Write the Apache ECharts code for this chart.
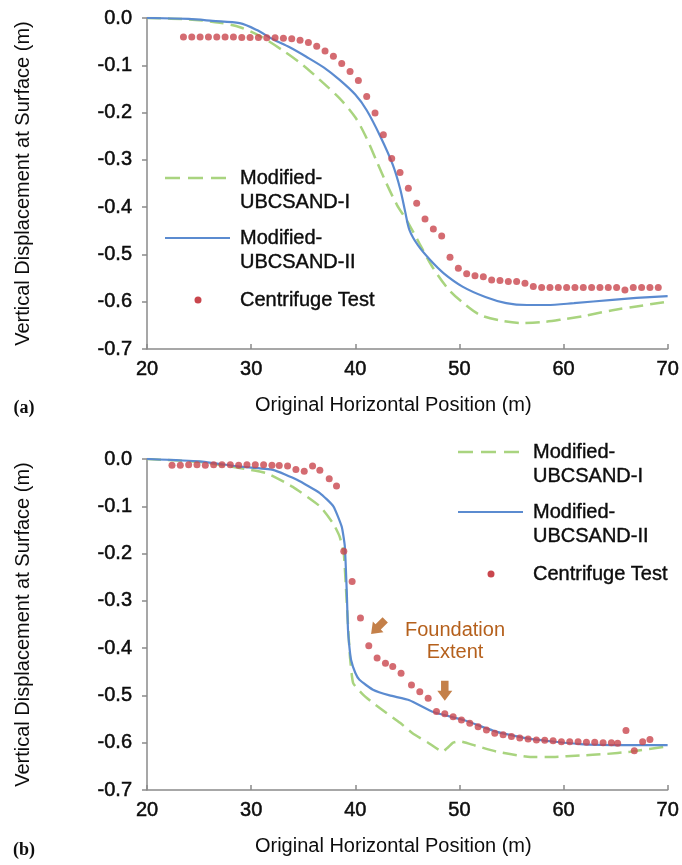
<!DOCTYPE html>
<html>
<head>
<meta charset="utf-8">
<script src="https://cdn.jsdelivr.net/npm/echarts@6/dist/echarts.min.js"></script>
<style>html,body{margin:0;padding:0;background:#fff}#c{width:682px;height:865px}</style>
</head>
<body>
<div id="c"></div>
<script>
// ---------- (a) ----------
const aModIx = [20, 24, 27, 29, 31, 33, 35, 36.6, 38.5, 40, 41, 42, 43, 44, 45, 46, 47.4, 49, 50.5, 52, 54, 56, 58, 60, 62, 64.7, 67, 70];
const aModIy = [0, -0.003, -0.01, -0.02, -0.04, -0.068, -0.1, -0.131, -0.17, -0.21, -0.25, -0.3, -0.35, -0.395, -0.43, -0.47, -0.526, -0.575, -0.605, -0.628, -0.64, -0.645, -0.643, -0.637, -0.63, -0.618, -0.61, -0.6];
const aModIIx = [20, 24, 26.3, 28.9, 30.5, 32.1, 33.7, 35.3, 37, 38.5, 40, 41.1, 42.4, 43.6, 44.3, 44.8, 45.2, 46, 47.2, 48.5, 50.3, 52.5, 54.5, 56.5, 58.4, 61, 64.7, 67, 70];
const aModIIy = [0, -0.002, -0.006, -0.011, -0.025, -0.045, -0.062, -0.082, -0.105, -0.131, -0.162, -0.195, -0.25, -0.31, -0.36, -0.41, -0.448, -0.48, -0.512, -0.54, -0.568, -0.59, -0.603, -0.607, -0.607, -0.603, -0.596, -0.592, -0.588];
const aTestx = [23.5, 24.3, 25.1, 25.9, 26.7, 27.5, 28.3, 29.1, 29.9, 30.7, 31.5, 32.3, 33.1, 33.9, 34.7, 35.5, 36.3, 37.1, 37.9, 38.7, 39.5, 40.3, 41.1, 41.9, 42.7, 43.5, 44.3, 45.1, 45.9, 46.7, 47.5, 48.3, 49.1, 49.9, 50.7, 51.5, 52.3, 53.1, 53.9, 54.7, 55.5, 56.3, 57.1, 57.9, 58.7, 59.5, 60.3, 61.1, 61.9, 62.7, 63.5, 64.3, 65.1, 65.9, 66.7, 67.5, 68.3, 69.1];
const aTesty = [-0.040, -0.040, -0.040, -0.040, -0.040, -0.040, -0.040, -0.041, -0.041, -0.041, -0.042, -0.042, -0.043, -0.044, -0.047, -0.052, -0.060, -0.070, -0.081, -0.096, -0.113, -0.132, -0.166, -0.201, -0.247, -0.297, -0.327, -0.360, -0.392, -0.425, -0.446, -0.461, -0.506, -0.529, -0.541, -0.545, -0.547, -0.554, -0.555, -0.557, -0.557, -0.561, -0.568, -0.570, -0.570, -0.570, -0.570, -0.570, -0.570, -0.570, -0.570, -0.570, -0.570, -0.575, -0.570, -0.570, -0.570, -0.570];

// ---------- (b) ----------
const bModIx = [20, 25, 28.9, 31.5, 34, 36.6, 37.9, 38.5, 38.9, 39.1, 39.3, 39.5, 39.8, 40.7, 41.7, 43, 44.3, 45.5, 47, 48.4, 48.9, 49.4, 50.0, 51.5, 53.6, 56.8, 59, 61.6, 64, 66.4, 69.9];
const bModIy = [0, -0.006, -0.019, -0.03, -0.059, -0.1, -0.137, -0.164, -0.2, -0.27, -0.35, -0.42, -0.474, -0.497, -0.516, -0.537, -0.558, -0.58, -0.6, -0.619, -0.61, -0.6, -0.597, -0.606, -0.619, -0.63, -0.63, -0.627, -0.624, -0.619, -0.608];
const bModIIx = [20, 25, 28.9, 32.1, 34.4, 36.6, 37.9, 38.7, 39.0, 39.2, 39.3, 39.45, 39.6, 40, 40.4, 41.7, 43.3, 45.2, 47.5, 50.4, 53.6, 56.8, 61.6, 66.4, 70];
const bModIIy = [0, -0.005, -0.016, -0.023, -0.044, -0.072, -0.1, -0.143, -0.185, -0.29, -0.36, -0.4, -0.425, -0.452, -0.467, -0.488, -0.5, -0.51, -0.535, -0.552, -0.577, -0.592, -0.603, -0.605, -0.605];
const bTestx = [22.4, 23.2, 24.0, 24.8, 25.6, 26.4, 27.2, 28.0, 28.8, 29.6, 30.4, 31.2, 32.0, 32.7, 33.5, 34.3, 35.1, 35.9, 36.6, 37.5, 38.2, 38.9, 39.7, 40.5, 41.3, 42.1, 42.9, 43.6, 44.4, 45.4, 46.2, 47.0, 47.8, 48.6, 49.4, 50.2, 51.0, 51.8, 52.6, 53.4, 54.2, 55.0, 55.8, 56.6, 57.4, 58.2, 59.0, 59.8, 60.6, 61.4, 62.2, 63.0, 63.8, 64.6, 65.2, 66.0, 66.8, 67.6, 68.3];
const bTesty = [-0.013, -0.013, -0.012, -0.012, -0.013, -0.012, -0.012, -0.012, -0.013, -0.012, -0.012, -0.012, -0.013, -0.014, -0.015, -0.022, -0.026, -0.015, -0.024, -0.042, -0.057, -0.195, -0.259, -0.336, -0.395, -0.421, -0.432, -0.439, -0.453, -0.478, -0.492, -0.506, -0.534, -0.539, -0.545, -0.552, -0.559, -0.566, -0.573, -0.58, -0.583, -0.587, -0.59, -0.592, -0.594, -0.595, -0.596, -0.598, -0.598, -0.598, -0.599, -0.599, -0.6, -0.6, -0.601, -0.574, -0.617, -0.598, -0.593];

// foundation-extent arrows (data coordinates) in (b)
const arrowX = [42.2, 48.6];
const arrowY = [-0.355, -0.49];
const arrowRot = [-45, 0];

const xTicks = [20, 30, 40, 50, 60, 70];
const yTicks = [0, -0.1, -0.2, -0.3, -0.4, -0.5, -0.6, -0.7];

const seriesNames = ['Modified-UBCSAND-I', 'Modified-UBCSAND-II', 'Centrifuge Test'];
const colI = '#a9d47f', colII = '#5b8bd0', colTest = '#c9464d', colAnno = '#b5601c';
const FONT = 'Liberation Sans, Arial, sans-serif';
const TXT = '#0d0d0d';

function zip(xs, ys) { return xs.map((x, i) => [x, ys[i]]); }

const chart = echarts.init(document.getElementById('c'), null, {renderer: 'canvas'});

const grids = [
  {left: 147, right: 14, top: 18, height: 331},
  {left: 147, right: 14, top: 459, height: 331}
];

function xAx(gi) {
  return {
    type: 'value', gridIndex: gi, min: xTicks[0], max: xTicks[xTicks.length - 1], interval: 10,
    name: 'Original Horizontal Position (m)', nameLocation: 'middle', nameGap: 46,
    nameTextStyle: {fontFamily: FONT, fontSize: 20, color: TXT, padding: [0, 28, 0, 0]},
    axisLine: {show: true, onZero: false, lineStyle: {color: '#8a8a8a', width: 1.5}},
    axisTick: {show: true, inside: true, length: 5, lineStyle: {color: '#8a8a8a', width: 1.5}},
    axisLabel: {fontFamily: FONT, fontSize: 20, color: TXT, margin: 10, textBorderColor: TXT, textBorderWidth: 0.5},
    splitLine: {show: false}
  };
}
function yAx(gi) {
  return {
    type: 'value', gridIndex: gi, min: -0.7, max: 0, interval: 0.1,
    name: 'Vertical Displacement at Surface (m)', nameLocation: 'middle', nameRotate: 90, nameGap: 114,
    nameTextStyle: {fontFamily: FONT, fontSize: 20, color: TXT},
    axisLine: {show: true, onZero: false, lineStyle: {color: '#8a8a8a', width: 1.5}},
    axisTick: {show: true, inside: false, length: 5, lineStyle: {color: '#8a8a8a', width: 1.5}},
    axisLabel: {fontFamily: FONT, fontSize: 20, color: TXT, margin: 15, textBorderColor: TXT, textBorderWidth: 0.5,
      formatter: v => (Math.abs(v) < 1e-9 ? '0.0' : v.toFixed(1))},
    splitLine: {show: false}
  };
}

function sets(gi, ix, iy, iix, iiy, tx, ty, sm) {
  return [
    {name: seriesNames[0], type: 'line', xAxisIndex: gi, yAxisIndex: gi, data: zip(ix, iy), smooth: sm,
      showSymbol: false, lineStyle: {color: colI, width: 2.5, type: [14, 7]}, z: 2},
    {name: seriesNames[1], type: 'line', xAxisIndex: gi, yAxisIndex: gi, data: zip(iix, iiy), smooth: sm,
      showSymbol: false, lineStyle: {color: colII, width: 2.2}, z: 3},
    {name: seriesNames[2], type: 'scatter', xAxisIndex: gi, yAxisIndex: gi, data: zip(tx, ty),
      symbol: 'circle', symbolSize: 7, itemStyle: {color: colTest}, z: 4}
  ];
}

const series = sets(0, aModIx, aModIy, aModIIx, aModIIy, aTestx, aTesty, 0.3)
  .concat(sets(1, bModIx, bModIy, bModIIx, bModIIy, bTestx, bTesty, 0.15));

series.push({
  name: 'Foundation Extent', type: 'scatter', xAxisIndex: 1, yAxisIndex: 1,
  data: arrowX.map((x, i) => ({value: [x, arrowY[i]], symbolRotate: arrowRot[i]})),
  symbol: 'path://M3,0 L9,0 L9,8 L12,8 L6,16 L0,8 L3,8 Z', symbolSize: [15, 20],
  itemStyle: {color: colAnno}, z: 5, silent: true
});

function legendGroup(x0, y0) {
  const tx = x0 + 75;
  const ts = {fontFamily: FONT, fontSize: 20, fill: TXT, verticalAlign: 'middle', stroke: TXT, lineWidth: 0.4};
  return [
    {type: 'line', shape: {x1: x0, y1: y0, x2: x0 + 65, y2: y0}, style: {stroke: colI, lineWidth: 2.5, lineDash: [15, 8]}},
    {type: 'text', x: tx, y: y0, style: Object.assign({text: 'Modified-'}, ts)},
    {type: 'text', x: tx, y: y0 + 24, style: Object.assign({text: 'UBCSAND-I'}, ts)},
    {type: 'line', shape: {x1: x0, y1: y0 + 60, x2: x0 + 65, y2: y0 + 60}, style: {stroke: colII, lineWidth: 2.2}},
    {type: 'text', x: tx, y: y0 + 60, style: Object.assign({text: 'Modified-'}, ts)},
    {type: 'text', x: tx, y: y0 + 84, style: Object.assign({text: 'UBCSAND-II'}, ts)},
    {type: 'circle', shape: {cx: x0 + 33, cy: y0 + 122, r: 3.5}, style: {fill: colTest}},
    {type: 'text', x: tx, y: y0 + 122, style: Object.assign({text: 'Centrifuge Test'}, ts)}
  ];
}

const annoStyle = {fontFamily: FONT, fontSize: 20, fill: colAnno, align: 'center', verticalAlign: 'middle'};
const graphic = [].concat(
  legendGroup(165, 178),
  legendGroup(458, 452),
  [
    {type: 'text', x: 455, y: 630, style: Object.assign({text: 'Foundation'}, annoStyle)},
    {type: 'text', x: 455, y: 652, style: Object.assign({text: 'Extent'}, annoStyle)},
    {type: 'text', x: 24, y: 408, style: {text: '(a)', fontFamily: 'Liberation Serif, serif', fontWeight: 'bold', fontSize: 18, fill: TXT, align: 'center', verticalAlign: 'middle'}},
    {type: 'text', x: 24, y: 850, style: {text: '(b)', fontFamily: 'Liberation Serif, serif', fontWeight: 'bold', fontSize: 18, fill: TXT, align: 'center', verticalAlign: 'middle'}}
  ]
);

chart.setOption({
  animation: false,
  backgroundColor: '#fff',
  grid: grids,
  xAxis: [xAx(0), xAx(1)],
  yAxis: [yAx(0), yAx(1)],
  series: series,
  graphic: graphic
});
</script>
</body>
</html>
